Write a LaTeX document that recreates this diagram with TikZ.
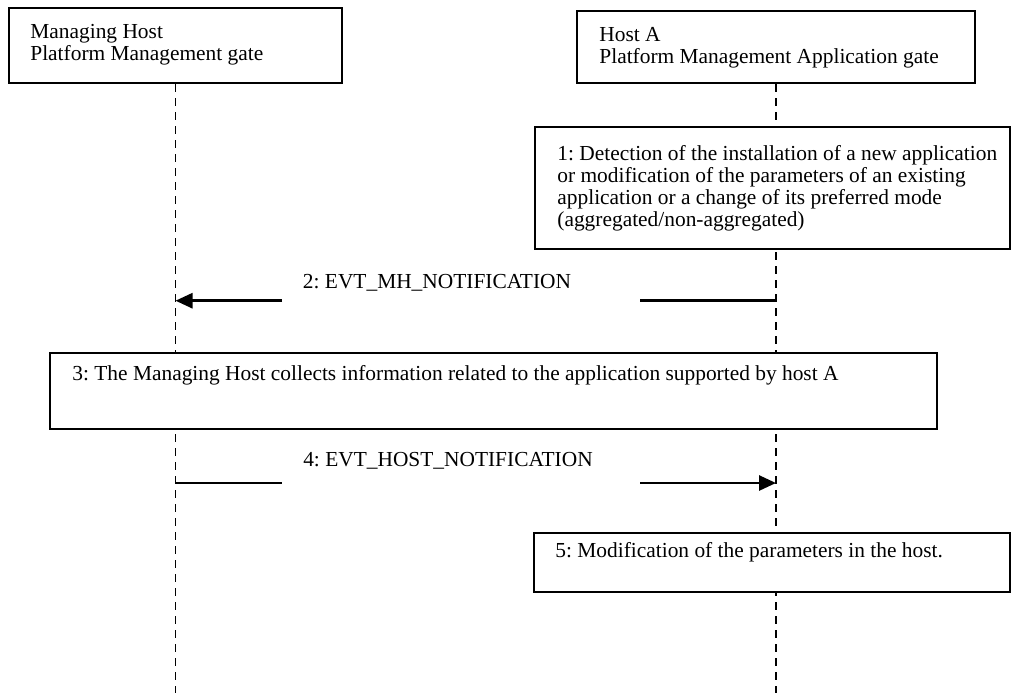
\documentclass[tikz,border=0pt]{standalone}
\usepackage{fontspec}
\setmainfont{Liberation Serif}
\usetikzlibrary{arrows.meta,backgrounds}

\tikzset{
  box/.style={draw, line width=1pt, fill=white, rectangle, inner sep=0pt},
  txt/.style={anchor=west, inner sep=0pt, align=left},
  lifeline/.style={line width=0.8pt, dash pattern=on 4pt off 3pt},
  msg/.style={line width=1.35pt},
  tip/.style={-{Triangle[length=8.5pt,width=7.5pt]}}
}

\begin{document}
\frenchspacing
\begin{tikzpicture}[x=0.5pt, y=-0.5pt, font=\fontsize{10.7}{11}\selectfont]
\useasboundingbox (0,0) rectangle (1011,693);

% boxes
\node[box, minimum width=166.5pt, minimum height=37.5pt] (mhbox) at (175.5,45.5) {};
\node[box, minimum width=199pt, minimum height=36pt] (habox) at (776,47) {};
\node[box, minimum width=237.5pt, minimum height=61pt] (detbox) at (772.5,187.5) {};
\node[box, minimum width=443.5pt, minimum height=38pt] (colbox) at (493.5,391) {};
\node[box, minimum width=238pt, minimum height=29.5pt] (modbox) at (772,562.5) {};

% texts
\node[txt] (mhtxt) at (30,45) {Managing Host\\Platform Management gate};
\node[txt] (hatxt) at (599,48) {Host A\\Platform Management Application gate};
\node[txt] (dettxt) at (557,188) {1: Detection of the installation of a new application\\or modification of the parameters of an existing\\application or a change of its preferred mode\\(aggregated/non-aggregated)};
\node[txt] (coltxt) at (72,375) {3: The Managing Host collects information related to the application supported by host A};
\node[txt] (modtxt) at (555,552) {5: Modification of the parameters in the host.};
\node[inner sep=0pt] (m2txt) at (437,283) {2: EVT\_MH\_NOTIFICATION};
\node[inner sep=0pt] (m4txt) at (448,461) {4: EVT\_HOST\_NOTIFICATION};

% lifeline ends and message points
\coordinate (mhend) at (175.5,693);
\coordinate (haend) at (776,693);
\coordinate (m2from) at (776,300.7);
\coordinate (m2gapR) at (640,300.7);
\coordinate (m2gapL) at (282,300.7);
\coordinate (m2to) at (175.5,300.7);
\coordinate (m4from) at (175.5,483);
\coordinate (m4gapL) at (282,483);
\coordinate (m4gapR) at (640,483);
\coordinate (m4to) at (776,483);

\begin{scope}[on background layer]
\draw[lifeline] (mhbox.south) -- (mhend);
\draw[lifeline] (habox.south) -- (haend);
\end{scope}

% messages
\draw[msg] (m2from) -- (m2gapR);
\draw[msg, tip] (m2gapL) -- (m2to);
\draw[msg] (m4from) -- (m4gapL);
\draw[msg, tip] (m4gapR) -- (m4to);

\end{tikzpicture}
\end{document}
